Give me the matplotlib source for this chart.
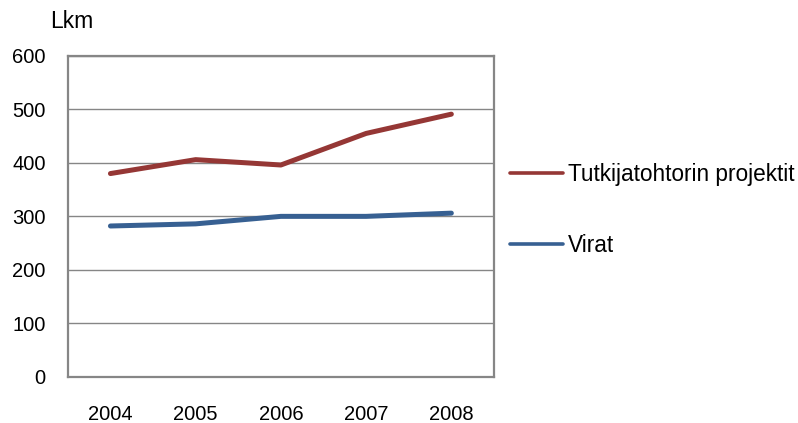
import matplotlib.pyplot as plt

plt.rcParams['font.family'] = ['Liberation Sans', 'DejaVu Sans']

# Data
years = ['2004', '2005', '2006', '2007', '2008']
tutkijatohtori = [380, 406, 396, 455, 491]
virat = [282, 286, 300, 300, 306]

fig = plt.figure(figsize=(7.98, 4.23), dpi=100)
ax = fig.add_axes([0.085, 0.109, 0.534, 0.759])

x = range(len(years))
ax.plot(x, tutkijatohtori, color='#953735', lw=3.6, solid_capstyle='round',
        label='Tutkijatohtorin projektit')
ax.plot(x, virat, color='#376092', lw=3.6, solid_capstyle='round', label='Virat')

ax.set_xlim(-0.5, len(years) - 0.5)
ax.set_ylim(0, 600)
ax.set_yticks(range(0, 601, 100))
ax.set_xticks(list(x))
ax.set_xticklabels(years)
ax.yaxis.grid(True, color='#868686', lw=1)
ax.set_axisbelow(True)
ax.tick_params(length=0, labelsize=14.5, colors='black')
ax.tick_params(axis='y', pad=16)
ax.tick_params(axis='x', pad=20)
for s in ax.spines.values():
    s.set_color('#868686')
    s.set_linewidth(1.6)

fig.text(50 / 798, 1 - 22 / 423, 'Lkm', fontsize=16.5, va='center', ha='left')

leg = fig.legend(loc='center left', bbox_to_anchor=(510 / 798, 1 - 210 / 423),
                 frameon=False, fontsize=16.3, handlelength=2.35, handletextpad=0.22,
                 labelspacing=2.1, borderpad=0, borderaxespad=0)
for h in leg.get_lines():
    h.set_linewidth(2.6)

fig.savefig('out.png', dpi=100)
